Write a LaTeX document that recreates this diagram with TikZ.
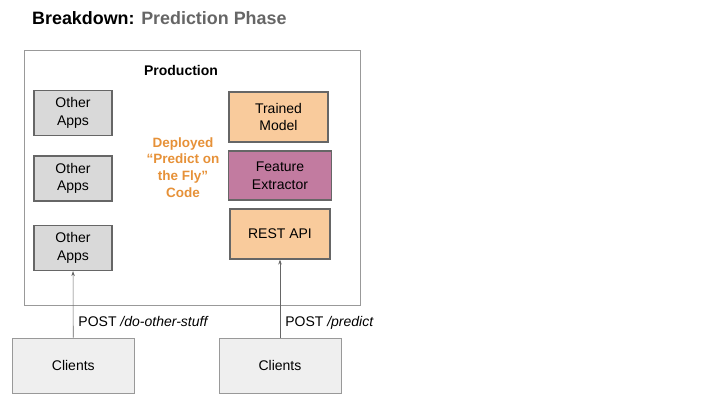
\documentclass[tikz,border=0pt]{standalone}
\usepackage{fontspec}
\setmainfont{Liberation Sans}
\usetikzlibrary{arrows.meta,positioning}
\definecolor{boxgray}{HTML}{D9D9D9}
\definecolor{clientgray}{HTML}{EFEFEF}
\definecolor{peach}{HTML}{F9CB9C}
\definecolor{mauve}{HTML}{C27BA0}
\definecolor{edgegray}{HTML}{666666}
\definecolor{linegray}{HTML}{999999}
\definecolor{deployorange}{HTML}{E69138}
\definecolor{titlegray}{HTML}{666666}

\tikzset{
  appbox/.style={draw=edgegray, line width=1.2pt, fill=boxgray, minimum width=78pt, minimum height=45pt, align=center, font=\fontsize{14}{17.5}\selectfont},
  partbox/.style={draw=edgegray, line width=1.2pt, minimum height=50pt, align=center, font=\fontsize{14}{17.5}\selectfont},
  clientbox/.style={draw=linegray, line width=0.8pt, fill=clientgray, minimum width=122pt, minimum height=55pt, font=\fontsize{14}{17}\selectfont},
  callarrow/.style={draw=edgegray, line width=0.6pt, -{Stealth[length=5pt,width=3.5pt]}},
  calllabel/.style={right, font=\fontsize{14}{17}\selectfont, inner sep=2pt, xshift=3pt}
}

\begin{document}
\begin{tikzpicture}[x=1pt,y=-1pt]
\useasboundingbox (0,0) rectangle (720,405);

% title
\node [anchor=base west, inner sep=0pt, font=\fontsize{17.9}{20}\selectfont\bfseries] (title) at (32,24)
  {Breakdown: \textcolor{titlegray}{Prediction Phase}};

% production area
\node [draw=linegray, line width=1pt, minimum width=336pt, minimum height=255pt] (prod) at (192,177.5) {};
\node [font=\fontsize{14}{16}\selectfont\bfseries] (prodlabel) at (181,70.5) {Production};

% other apps
\node [appbox] (apps1) at (73,113) {Other\\Apps};
\node [appbox] (apps2) at (73,178.5) {Other\\Apps};
\node [appbox] (apps3) at (73,248) {Other\\Apps};

% deployed code
\node [partbox, fill=peach, minimum width=99pt] (model) at (278.5,117) {Trained\\Model};
\node [partbox, fill=mauve, minimum width=103pt, minimum height=49pt] (features) at (280,175.5) {Feature\\Extractor};
\node [partbox, fill=peach, minimum width=100pt] (rest) at (280,234) {REST API};
\node [align=center, text=deployorange, font=\fontsize{13.5}{16.8}\selectfont\bfseries] (deployed) at (183,167.5)
  {Deployed\\``Predict on\\the Fly''\\Code};

% clients
\node [clientbox] (client1) at (73.3,365.5) {Clients};
\node [clientbox] (client2) at (280,365.5) {Clients};

\draw [callarrow] (client1) -- node [calllabel, pos=0.24] {POST \textit{/do-other-stuff}} (apps3);
\draw [callarrow] (client2) -- node [calllabel, pos=0.19] {POST \textit{/predict}} (rest);
\end{tikzpicture}
\end{document}
